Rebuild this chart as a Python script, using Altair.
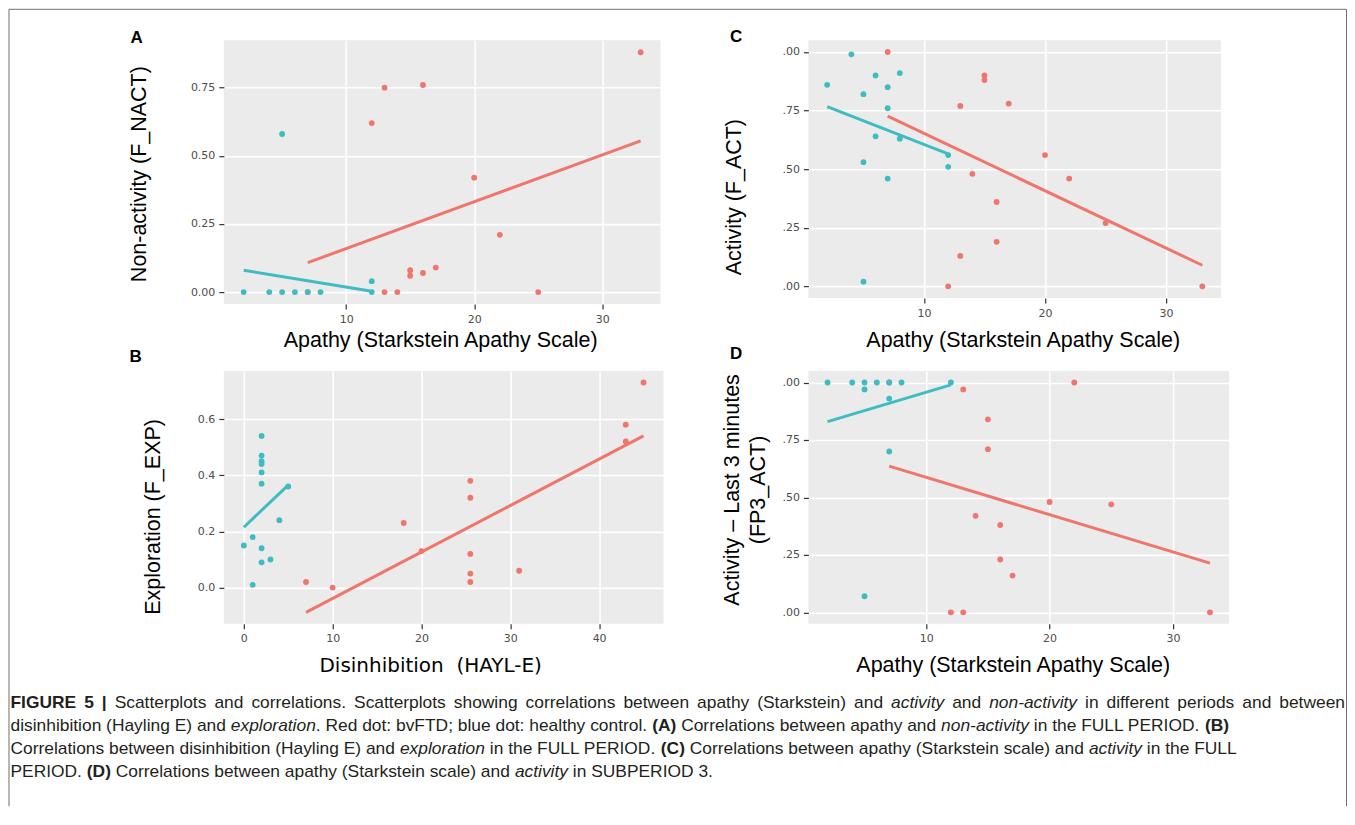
import altair as alt
import pandas as pd

RED = "#EE766D"
TEAL = "#3FBCC2"
PANEL_BG = "#EBEBEB"

# ---------------- data ----------------
# Panel A: apathy vs non-activity (full period)
a_red_x = [7, 12, 13, 13, 14, 15, 15, 16, 16, 17, 20, 22, 25, 33]
a_red_y = [0.00, 0.62, 0.75, 0.00, 0.00, 0.08, 0.06, 0.76, 0.07, 0.09, 0.42, 0.21, 0.00, 0.88]
a_blue_x = [2, 4, 5, 5, 6, 7, 8, 12, 12]
a_blue_y = [0.00, 0.00, 0.00, 0.58, 0.00, 0.00, 0.00, 0.04, 0.00]
a_fit_red_x = [7, 33]
a_fit_red_y = [0.108, 0.555]
a_fit_blue_x = [2, 12]
a_fit_blue_y = [0.080, 0.003]

# Panel B: disinhibition vs exploration
b_red_x = [7, 10, 18, 20, 25.5, 25.5, 25.5, 25.5, 25.5, 31, 43, 43, 45]
b_red_y = [0.02, 0.00, 0.23, 0.13, 0.38, 0.32, 0.12, 0.05, 0.02, 0.06, 0.58, 0.52, 0.73]
b_blue_x = [0, 1, 1, 2, 2, 2, 2, 2, 2, 2, 2, 3, 4, 5]
b_blue_y = [0.15, 0.18, 0.01, 0.54, 0.47, 0.45, 0.44, 0.41, 0.37, 0.14, 0.09, 0.10, 0.24, 0.36]
b_fit_red_x = [7, 45]
b_fit_red_y = [-0.088, 0.54]
b_fit_blue_x = [0, 5]
b_fit_blue_y = [0.215, 0.365]

# Panel C: apathy vs activity (full period)
c_red_x = [7, 15, 15, 17, 13, 20, 14, 22, 16, 25, 16, 13, 12, 33]
c_red_y = [1.00, 0.90, 0.88, 0.78, 0.77, 0.56, 0.48, 0.46, 0.36, 0.27, 0.19, 0.13, 0.00, 0.00]
c_blue_x = [2, 4, 5, 6, 7, 8, 7, 6, 8, 5, 7, 12, 12, 5]
c_blue_y = [0.86, 0.99, 0.82, 0.90, 0.85, 0.91, 0.76, 0.64, 0.63, 0.53, 0.46, 0.56, 0.51, 0.02]
c_fit_red_x = [7, 33]
c_fit_red_y = [0.726, 0.090]
c_fit_blue_x = [2, 12]
c_fit_blue_y = [0.767, 0.565]

# Panel D: apathy vs activity (last 3 minutes)
d_red_x = [7, 12, 13, 13, 14, 15, 15, 16, 16, 17, 20, 22, 25, 33]
d_red_y = [1.00, 0.00, 0.97, 0.00, 0.42, 0.84, 0.71, 0.38, 0.23, 0.16, 0.48, 1.00, 0.47, 0.00]
d_blue_x = [2, 4, 5, 5, 6, 7, 7, 8, 12, 7, 5]
d_blue_y = [1.00, 1.00, 1.00, 0.97, 1.00, 1.00, 0.93, 1.00, 1.00, 0.70, 0.07]
d_fit_red_x = [7, 33]
d_fit_red_y = [0.636, 0.214]
d_fit_blue_x = [2, 12]
d_fit_blue_y = [0.83, 0.99]

ticks_apathy = [10, 20, 30]
ticks_disinh = [0, 10, 20, 30, 40]
ticks_a_y = [0.0, 0.25, 0.5, 0.75]
ticks_b_y = [0.0, 0.2, 0.4, 0.6]
ticks_cd_y = [0.0, 0.25, 0.5, 0.75, 1.0]

# caption lines: words marked *italic* or **bold**
caption_lines = [
    "**FIGURE** **5** **|** Scatterplots and correlations. Scatterplots showing correlations between apathy (Starkstein) and *activity* and *non-activity* in different periods and between",
    "disinhibition (Hayling E) and *exploration*. Red dot: bvFTD; blue dot: healthy control. **(A)** Correlations between apathy and *non-activity* in the FULL PERIOD. **(B)**",
    "Correlations between disinhibition (Hayling E) and *exploration* in the FULL PERIOD. **(C)** Correlations between apathy (Starkstein scale) and *activity* in the FULL",
    "PERIOD. **(D)** Correlations between apathy (Starkstein scale) and *activity* in SUBPERIOD 3.",
]

# ---------------- text metrics (Liberation Sans = Arial metrics, per 1000 em) ----------------
_U = "ABCDEFGHIJKLMNOPQRSTUVWXYZ"
_L = "abcdefghijklmnopqrstuvwxyz"
REG = dict(zip(_U, [667, 667, 722, 722, 667, 611, 778, 722, 278, 500, 667, 556, 833, 722, 778, 667,
                    778, 722, 667, 611, 722, 667, 944, 667, 667, 611]))
REG.update(zip(_L, [556, 556, 500, 556, 556, 278, 556, 556, 222, 222, 500, 222, 833, 556, 556, 556,
                    556, 333, 500, 278, 556, 500, 722, 500, 500, 500]))
REG.update({c: 556 for c in "0123456789"})
REG.update({" ": 278, "(": 333, ")": 333, ",": 278, "-": 333, ".": 278, ":": 278, ";": 278, "|": 260})
BLD = dict(zip(_U, [722, 722, 722, 722, 667, 611, 778, 722, 278, 556, 722, 611, 833, 722, 778, 667,
                    778, 722, 667, 611, 722, 667, 944, 667, 667, 611]))
BLD.update(zip(_L, [556, 611, 556, 611, 556, 333, 611, 611, 278, 278, 556, 278, 889, 611, 611, 611,
                    611, 389, 556, 333, 611, 556, 778, 556, 556, 500]))
BLD.update({c: 556 for c in "0123456789"})
BLD.update({" ": 278, "(": 333, ")": 333, ",": 278, "-": 333, ".": 278, ":": 333, ";": 333, "|": 280})


def text_width(s, size, style):
    table = BLD if style == "b" else REG
    return sum(table.get(ch, 556) for ch in s) * size / 1000.0


def tokens_of(line):
    out = []
    for w in line.split(" "):
        if w.startswith("**"):
            out.append((w.strip("*"), "b"))
        elif w.startswith("*"):
            if w.endswith("*"):
                out.append((w.strip("*"), "i"))
            else:
                i = w.rfind("*")
                out.append((w[1:i], "i"))
                out.append((w[i + 1:], "r+"))  # punctuation glued to the italic word
        else:
            out.append((w, "r"))
    return out


def layout_line(line, size, x0, justify_to=None):
    words = tokens_of(line)
    space = text_width(" ", size, "r")
    n_gaps = sum(1 for t, s in words[1:] if s != "r+")
    widths = [text_width(t, size, "r" if s == "r+" else s) for t, s in words]
    gap = space if justify_to is None else (justify_to - x0 - sum(widths)) / n_gaps
    segs = []
    x = x0
    for (t, s), wd in zip(words, widths):
        if s == "r+":
            segs.append([t, "r", x, True])
        else:
            if segs:
                x += gap
            segs.append([t, s, x, False])
        x += wd
    if justify_to is not None:
        return [(t, s, px) for t, s, px, _ in segs]
    merged = []
    for t, s, px, glued in segs:
        if merged and merged[-1][1] == s:
            merged[-1][0] = merged[-1][0] + ("" if glued else " ") + t
        else:
            merged.append([t, s, px])
    return [tuple(m) for m in merged]


def expand(vals):
    lo, hi = min(vals), max(vals)
    pad = (hi - lo) * 0.05
    return [lo - pad, hi + pad]


def one(text):
    return pd.DataFrame({"t": [text]})


def text_mark(text, x, y, size, weight="normal", style="normal", font="Liberation Sans",
              align="left", color="black"):
    return alt.Chart(one(text)).mark_text(
        align=align, baseline="middle", font=font, fontSize=size, fontWeight=weight,
        fontStyle=style, color=color
    ).encode(text="t:N", x=alt.value(x), y=alt.value(y))


def panel(rx, ry, bx, by, frx, fry, fbx, fby, w, h, xticks, yticks, ylab_expr,
          xtitle, xt_xy, xtitle_font, xtitle_size, ytitle, yt_xy, letter, letter_xy, extras=()):
    pts = pd.DataFrame({"x": rx + bx, "y": ry + by,
                        "g": ["bvFTD"] * len(rx) + ["control"] * len(bx)})
    fits = pd.DataFrame({"x": frx + fbx, "y": fry + fby,
                         "g": ["bvFTD"] * len(frx) + ["control"] * len(fbx)})
    xs = alt.Scale(domain=expand(rx + bx + frx + fbx), nice=False, zero=False)
    ys = alt.Scale(domain=expand(ry + by + fry + fby), nice=False, zero=False)
    color = alt.Color("g:N", scale=alt.Scale(domain=["bvFTD", "control"], range=[RED, TEAL]), legend=None)
    xaxis = alt.Axis(values=xticks, format="d", title=xtitle, titleX=xt_xy[0], titleY=xt_xy[1],
                     titleAlign="center", titleBaseline="middle", titleFont=xtitle_font,
                     titleFontSize=xtitle_size)
    yaxis = alt.Axis(values=yticks, labelExpr=ylab_expr, title=ytitle, titleAngle=270,
                     titleX=yt_xy[0], titleY=yt_xy[1], titleAlign="center",
                     titleBaseline="middle", titleLineHeight=26)
    points = alt.Chart(pts).mark_circle(size=34, opacity=1).encode(
        x=alt.X("x:Q", scale=xs, axis=xaxis), y=alt.Y("y:Q", scale=ys, axis=yaxis), color=color)
    lines = alt.Chart(fits).mark_line(strokeWidth=3).encode(
        x=alt.X("x:Q", scale=xs, axis=xaxis), y=alt.Y("y:Q", scale=ys, axis=yaxis),
        color=color, detail="g:N")
    lt = text_mark(letter, letter_xy[0], letter_xy[1], 17, weight="bold")
    return alt.layer(points, lines, lt, *extras).properties(
        width=w, height=h, view=alt.ViewBackground(fill=PANEL_BG, stroke=None))


# ---------------- decorations anchored on panel A (frame + caption) ----------------
BORDER = "#6E6E6E"
frame_left = alt.Chart(one("")).mark_rule(color=BORDER, strokeWidth=1).encode(
    x=alt.value(-215), y=alt.value(-31), y2=alt.value(766.5))
frame_right = alt.Chart(one("")).mark_rule(color=BORDER, strokeWidth=1).encode(
    x=alt.value(1123.5), y=alt.value(-31), y2=alt.value(766.5))
frame_top = alt.Chart(one("")).mark_rule(color=BORDER, strokeWidth=1).encode(
    x=alt.value(-215), x2=alt.value(1123.5), y=alt.value(-31))

CAP_COLOR = "#231F20"
CAP_SIZE = 17.4
CAP_X0 = -213.5          # page x = 10
CAP_Y0 = 663.5           # page y = 703
CAP_LH = 23
cap = []
for i, line in enumerate(caption_lines):
    segs = layout_line(line, CAP_SIZE, CAP_X0, justify_to=(1122.0 if i == 0 else None))
    for t, s, px in segs:
        cap.append(text_mark(t, px, CAP_Y0 + CAP_LH * i, CAP_SIZE,
                             weight="bold" if s == "b" else "normal",
                             style="italic" if s == "i" else "normal", color=CAP_COLOR))

A = panel(a_red_x, a_red_y, a_blue_x, a_blue_y, a_fit_red_x, a_fit_red_y, a_fit_blue_x, a_fit_blue_y,
          437, 264, ticks_apathy, ticks_a_y, "format(datum.value, '.2f')",
          "Apathy (Starkstein Apathy Scale)", (216.5, 36.5), "Liberation Sans", 21.5,
          "Non-activity (F_NACT)", (-84.5, 133.5), "A", (-93.5, -2.5),
          extras=[frame_left, frame_right, frame_top] + cap)

C = panel(c_red_x, c_red_y, c_blue_x, c_blue_y, c_fit_red_x, c_fit_red_y, c_fit_blue_x, c_fit_blue_y,
          413, 258, ticks_apathy, ticks_cd_y, "substring(format(datum.value, '.2f'), 1)",
          "Apathy (Starkstein Apathy Scale)", (214.5, 42.5), "Liberation Sans", 21.5,
          "Activity (F_ACT)", (-73.5, 156.5), "C", (-78.5, -3))

B = panel(b_red_x, b_red_y, b_blue_x, b_blue_y, b_fit_red_x, b_fit_red_y, b_fit_blue_x, b_fit_blue_y,
          440, 253, ticks_disinh, ticks_b_y, "format(datum.value, '.1f')",
          "Disinhibition\u00a0\u00a0(HAYL-E)", (206.5, 41.5), "DejaVu Sans", 20,
          "Exploration (F_EXP)", (-70.5, 145.5), "B", (-94.5, -14.5))

D = panel(d_red_x, d_red_y, d_blue_x, d_blue_y, d_fit_red_x, d_fit_red_y, d_fit_blue_x, d_fit_blue_y,
          421, 253, ticks_apathy, ticks_cd_y, "substring(format(datum.value, '.2f'), 1)",
          "Apathy (Starkstein Apathy Scale)", (204.5, 41.5), "Liberation Sans", 21.5,
          ["Activity \u2013 Last 3 minutes", "(FP3_ACT)"], (-75.5, 118.5), "D", (-78.5, -17))

chart = alt.concat(
    A, C, B, D,
    columns=2, bounds="flush", spacing={"row": 67, "column": 145},
).properties(padding=0, background="white").configure_view(stroke=None).configure_axis(
    grid=True, gridColor="white", gridWidth=1.6, domain=False,
    tickColor="#333333", tickWidth=1.2, tickSize=5,
    labelFont="DejaVu Sans", labelFontSize=11, labelColor="#4D4D4D", labelPadding=4,
    titleFont="Liberation Sans", titleFontSize=21.5, titleFontWeight="normal", titleColor="black",
)

chart.save("out.html", embed_options={"renderer": "svg", "actions": False})
